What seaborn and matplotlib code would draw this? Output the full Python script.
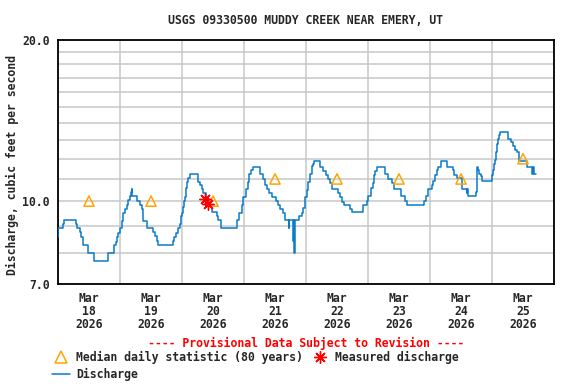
import pandas as pd
import matplotlib
matplotlib.use("Agg")
import matplotlib.pyplot as plt
import matplotlib.dates as mdates
from matplotlib.lines import Line2D
from matplotlib.ticker import FixedLocator, NullFormatter
import seaborn as sns

# Discharge (cfs), step values; hours counted from 2026-03-18 00:00
hours = [0.0, 0.13, 2.06, 2.45, 6.84, 7.35, 8.39, 8.90, 9.81, 11.74, 14.06, 19.48,
         21.81, 22.32, 22.84, 23.35, 24.00, 24.65, 25.29, 25.94, 26.58, 27.23, 27.87,
         28.26, 28.52, 28.65, 28.77, 30.71, 31.74, 32.39, 32.77, 33.03, 34.32, 36.90,
         37.55, 38.19, 38.84, 44.65, 45.03, 45.55, 46.32, 47.23, 47.61, 48.13, 48.52,
         48.80, 49.20, 49.50, 50.00, 50.50, 51.10, 54.30, 55.00, 55.60, 56.30, 57.20,
         57.80, 58.50, 59.70, 61.40, 62.10, 63.00, 69.40, 70.20, 71.10, 71.70, 72.60,
         73.40, 74.10, 74.60, 75.40, 78.20, 79.20, 80.10, 81.00, 81.80, 82.70, 84.40,
         85.30, 85.90, 87.00, 88.00, 89.40, 89.60, 91.00, 91.20, 91.50, 91.70, 93.40,
         94.30, 95.00, 95.60, 96.30, 96.90, 97.50, 98.20, 98.80, 99.20, 101.40, 102.70,
         103.60, 104.60, 105.30, 106.20, 108.50, 109.20, 109.80, 110.80, 113.00, 113.70,
         118.20, 119.50, 120.10, 121.00, 121.80, 122.30, 122.70, 123.40, 126.60, 127.60,
         129.20, 130.20, 132.70, 134.30, 135.00, 141.80, 142.30, 143.30, 144.60, 145.30,
         145.90, 146.60, 147.20, 148.30, 150.50, 152.80, 153.40, 154.30, 156.40, 158.20,
         158.50, 158.90, 161.70, 162.00, 162.30, 162.70, 163.10, 163.60, 164.30, 167.90,
         168.30, 168.80, 169.20, 169.60, 170.10, 170.50, 170.80, 171.10, 174.30, 175.20,
         176.00, 176.90, 177.50, 178.60, 181.70, 183.30, 184.00, 184.10, 184.90]
cfs = [8.58, 8.90, 9.05, 9.21, 9.05, 8.90, 8.74, 8.58, 8.27, 7.99, 7.73, 7.99,
       8.27, 8.40, 8.56, 8.73, 8.90, 9.19, 9.49, 9.66, 9.84, 10.05, 10.22,
       10.39, 10.52, 10.39, 10.22, 10.02, 9.84, 9.66, 9.49, 9.19, 8.90, 8.77,
       8.60, 8.44, 8.27, 8.43, 8.56, 8.73, 8.90, 9.08, 9.36, 9.52, 9.77,
       10.02, 10.19, 10.57, 10.86, 11.06, 11.22, 10.86, 10.71, 10.52, 10.34, 10.19,
       10.02, 9.84, 9.53, 9.36, 9.23, 8.90, 9.23, 9.49, 9.84, 10.17, 10.52,
       10.86, 11.25, 11.44, 11.60, 11.22, 11.01, 10.71, 10.52, 10.34, 10.19, 10.02,
       9.84, 9.67, 9.52, 9.20, 8.90, 9.20, 8.44, 9.20, 7.99, 9.20, 9.36,
       9.52, 9.70, 10.19, 10.48, 10.86, 11.25, 11.65, 11.75, 11.90, 11.60, 11.37,
       11.21, 10.99, 10.82, 10.52, 10.37, 10.19, 9.98, 9.83, 9.67, 9.53,
       9.83, 10.01, 10.22, 10.60, 10.82, 11.17, 11.37, 11.60, 11.25, 11.01,
       10.82, 10.52, 10.22, 10.01, 9.83, 10.01, 10.22, 10.52, 10.71, 10.91,
       11.17, 11.41, 11.60, 11.87, 11.60, 11.41, 11.21, 11.03, 10.52, 10.37,
       10.52, 10.22, 10.41, 11.00, 11.57, 11.41, 11.25, 11.12, 10.89, 11.17,
       11.41, 11.73, 11.94, 12.34, 12.80, 13.08, 13.27, 13.49, 13.08, 12.88,
       12.70, 12.45, 12.34, 11.90, 11.60, 11.22, 11.57, 11.22, 11.22]

# Median daily statistic, plotted at noon of each day
median_days = ["2026-03-18", "2026-03-19", "2026-03-20", "2026-03-21",
               "2026-03-22", "2026-03-23", "2026-03-24", "2026-03-25"]
median_cfs = [10.0, 10.0, 10.0, 11.0, 11.0, 11.0, 11.0, 12.0]

# Field measurements
measured_hours = [56.9, 58.2]
measured_cfs = [10.1, 9.88]

start = pd.Timestamp("2026-03-18")
df = pd.DataFrame({"time": start + pd.to_timedelta(hours, unit="h"), "cfs": cfs})
med = pd.DataFrame({"time": pd.to_datetime(median_days) + pd.Timedelta(hours=12),
                    "cfs": median_cfs})
meas = pd.DataFrame({"time": start + pd.to_timedelta(measured_hours, unit="h"),
                     "cfs": measured_cfs})

sns.set_theme(style="white")
plt.rcParams["font.family"] = ["DejaVu Sans Mono"]
plt.rcParams["font.weight"] = "bold"
fs = 8.3
plt.rcParams["font.size"] = fs

fig = plt.figure(figsize=(5.76, 3.84), dpi=100)
ax = fig.add_axes([58 / 576, 100 / 384, 496 / 576, 244 / 384])

line_color = "#0a7bc8"
sns.lineplot(data=df, x="time", y="cfs", ax=ax, color=line_color, linewidth=1.1,
             drawstyle="steps-post", zorder=3)
sns.scatterplot(data=med, x="time", y="cfs", ax=ax, marker="^", s=55,
                facecolors="none", edgecolor="#ffa500", linewidth=1.1, zorder=4)
sns.scatterplot(data=meas, x="time", y="cfs", ax=ax, marker=(8, 2, 0), s=70,
                color="red", edgecolor="red", linewidth=1.0, zorder=5)

ax.set_yscale("log")
ax.set_ylim(7, 20)
ax.yaxis.set_major_locator(FixedLocator([7, 10, 20]))
ax.yaxis.set_minor_locator(FixedLocator(list(range(8, 20))))
ax.set_yticklabels(["7.0", "10.0", "20.0"])
ax.yaxis.set_minor_formatter(NullFormatter())

ax.set_xlim(start, pd.Timestamp("2026-03-26"))
ax.xaxis.set_major_locator(mdates.DayLocator())
ax.xaxis.set_major_formatter(NullFormatter())
ax.xaxis.set_minor_locator(mdates.HourLocator(byhour=[12]))
ax.xaxis.set_minor_formatter(mdates.DateFormatter("%b\n%d\n%Y"))

ax.grid(which="both", axis="y", color="#c8c8c8", linewidth=1.1)
ax.grid(which="major", axis="x", color="#c8c8c8", linewidth=1.1)
ax.tick_params(which="both", length=0)
ax.tick_params(axis="y", pad=6, labelsize=fs)
ax.tick_params(axis="x", which="minor", pad=6, labelsize=fs)
for lab in ax.get_xticklabels(minor=True):
    lab.set_linespacing(1.0)
for sp in ax.spines.values():
    sp.set_color("black")
    sp.set_linewidth(1.3)
ax.set_xlabel("")
ax.set_ylabel("")

fig.text(306 / 576, 1 - 20 / 384, "USGS 09330500 MUDDY CREEK NEAR EMERY, UT",
         ha="center", va="center", fontsize=fs)
fig.text(12 / 576, 1 - 165 / 384, "Discharge, cubic feet per second",
         rotation=90, ha="center", va="center", fontsize=fs)
fig.text(306 / 576, 1 - 343 / 384, "---- Provisional Data Subject to Revision ----",
         ha="center", va="center", fontsize=fs, color="red")

handles = [
    Line2D([], [], linestyle="none", marker="^", markersize=8, markerfacecolor="none",
           markeredgecolor="#ffa500", markeredgewidth=1.1),
    Line2D([], [], color=line_color, linewidth=1.1),
    Line2D([], [], linestyle="none", marker=(8, 2, 0), markersize=9, color="red",
           markeredgewidth=1.0),
]
labels = ["Median daily statistic (80 years)", "Discharge", "Measured discharge"]
fig.legend(handles, labels, ncol=2, frameon=False, loc="upper left",
           bbox_to_anchor=(52 / 576, 1 - 351 / 384), fontsize=fs,
           handlelength=1.6, handletextpad=0.5, columnspacing=0.65,
           labelspacing=0.35, borderpad=0, borderaxespad=0)

plt.savefig("out.png", dpi=100)
plt.close()
